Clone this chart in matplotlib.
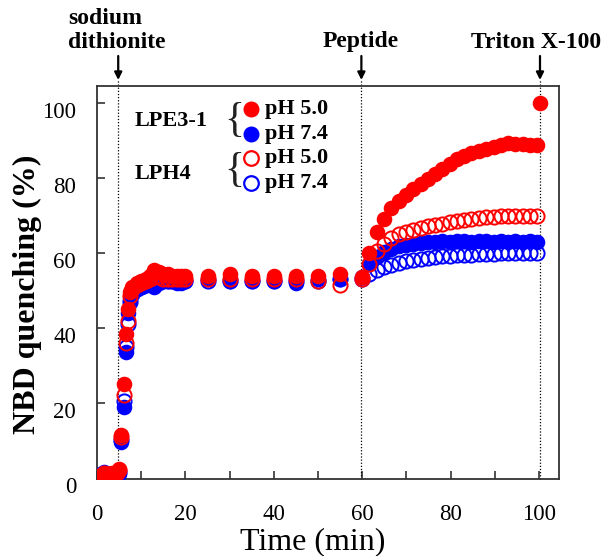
import matplotlib
matplotlib.use("Agg")
import matplotlib.pyplot as plt
from matplotlib.lines import Line2D
from matplotlib.transforms import ScaledTranslation

plt.rcParams["font.family"] = ["Liberation Serif", "DejaVu Serif"]

# time points (min)
t_early = [0.5, 1.5, 2.5, 3.5, 4.5, 5.0, 5.5, 6.0, 6.5, 7.0, 7.5, 8.0,
           9.0, 10.0, 11.0, 12.0, 13.0, 14.0, 15.0, 16.0, 17.0, 18.0, 19.0, 20.0]
t_plateau = [25, 30, 35, 40, 45, 50, 55]
t_post = [60.0, 61.6, 63.3, 64.9, 66.6, 68.2, 69.9, 71.5, 73.2, 74.8, 76.5,
          78.1, 79.8, 81.4, 83.1, 84.7, 86.4, 88.0, 89.7, 91.3, 93.0, 94.6,
          96.3, 97.9, 99.5]
times = t_early + t_plateau + t_post

# NBD quenching (%)
lpe_ph50 = ([0.5, 1.0, 1.0, 1.2, 1.5, 2.5, 11.5, 25.0, 38.5, 45.0, 49.5, 51.0,
             52.0, 52.5, 53.0, 54.0, 55.5, 55.0, 54.5, 54.5, 54.0, 54.0, 54.0, 54.0]
            + [54.0, 54.5, 54.0, 54.0, 54.0, 54.0, 54.5]
            + [53.5, 60.0, 65.5, 69.0, 72.0, 74.0, 75.5, 77.0, 78.5, 79.8, 81.0,
               82.5, 83.8, 85.0, 86.0, 86.8, 87.3, 87.8, 88.2, 88.8, 89.3, 89.2,
               89.0, 88.9, 88.9])
lpe_ph74 = ([0.8, 1.5, 1.0, 1.0, 1.0, 1.0, 9.5, 19.0, 33.5, 44.0, 47.5, 49.5,
             50.5, 51.0, 51.5, 52.0, 51.0, 52.0, 52.5, 52.5, 52.5, 52.0, 52.0, 52.5]
            + [53.0, 52.5, 52.5, 52.5, 52.0, 53.0, 53.0]
            + [53.5, 57.0, 59.0, 60.3, 61.2, 61.8, 62.2, 62.5, 62.7, 62.9, 63.0,
               63.1, 63.0, 63.2, 63.1, 63.0, 63.2, 63.1, 63.0, 63.1, 63.0, 63.2,
               63.0, 63.1, 63.0])
lph_ph50 = ([0.6, 1.2, 1.0, 1.0, 1.3, 2.0, 11.0, 22.0, 36.0, 42.0, 48.5, 50.5,
             51.5, 52.0, 52.5, 53.0, 53.5, 53.5, 53.0, 53.0, 53.0, 53.0, 53.0, 53.0]
            + [53.0, 53.0, 53.0, 53.0, 53.0, 52.5, 51.5]
            + [53.0, 57.0, 60.5, 62.5, 64.0, 65.0, 65.7, 66.2, 66.7, 67.1, 67.5,
               67.8, 68.2, 68.5, 68.8, 69.1, 69.3, 69.5, 69.6, 69.8, 69.9, 69.9,
               70.0, 70.0, 69.9])
lph_ph74 = ([0.7, 1.3, 1.0, 1.0, 1.2, 1.5, 10.0, 20.5, 35.0, 41.0, 47.0, 49.0,
             50.5, 51.0, 51.5, 52.0, 52.5, 52.5, 52.5, 52.5, 52.5, 52.5, 52.5, 52.5]
            + [52.5, 52.5, 52.5, 52.5, 52.5, 52.5, 53.0]
            + [53.0, 54.5, 55.5, 56.3, 56.9, 57.4, 57.8, 58.1, 58.4, 58.7, 58.9,
               59.1, 59.3, 59.4, 59.5, 59.6, 59.7, 59.8, 59.8, 59.9, 59.9, 60.0,
               60.0, 60.0, 60.0])
t_triton = 100.2
triton_value = 100.0

# event markers
events = [("dithionite", 4.8), ("peptide", 59.8), ("triton", 100.2)]

RED = "#ff0000"
BLUE = "#0000ff"
W, H = 610, 556


def fx(px):
    return px / W


def fy(py):
    return 1 - py / H


fig = plt.figure(figsize=(6.1, 5.56), dpi=100)
ax = fig.add_axes([fx(97), fy(479), fx(559) - fx(97), fy(86) - fy(479)])

ms = 10.2
ax.plot(times, lpe_ph74, "o", ms=ms, color=BLUE, mec=BLUE, zorder=3)
ax.plot(times, lph_ph74, "o", ms=ms, mfc="none", mec=BLUE, mew=1.4, zorder=3)
ax.plot(times, lpe_ph50, "o", ms=ms, color=RED, mec=RED, zorder=4)
ax.plot(times, lph_ph50, "o", ms=ms, mfc="none", mec=RED, mew=1.4, zorder=4)
ax.plot([t_triton], [triton_value], "o", ms=ms, color=RED, zorder=5)

ax.set_xlim(0, 104.5)
ax.set_ylim(-0.3, 104.6)
ax.set_xticks(range(0, 101, 10))
ax.set_xticklabels([str(v) if v % 20 == 0 else "" for v in range(0, 101, 10)])
ax.set_yticks(range(0, 101, 20))
ax.tick_params(direction="in", length=6, width=1.2, labelsize=16.5,
               color="#333333")
ax.tick_params(axis="x", pad=18)
ax.tick_params(axis="y", pad=15)
for lab in ax.get_yticklabels():
    lab.set_transform(lab.get_transform() +
                      ScaledTranslation(0, -0.07, fig.dpi_scale_trans))
for s in ax.spines.values():
    s.set_linewidth(1.3)
    s.set_color("#333333")

# dotted event lines + arrows
for name, t in events:
    ax.axvline(t, ymin=0, ymax=1.015, color="black", ls=(0, (1, 1.5)),
               lw=0.9, clip_on=False, zorder=2)
    ax.annotate("", xy=(t, H - 80), xytext=(t, H - 56),
                xycoords=("data", "figure pixels"),
                textcoords=("data", "figure pixels"),
                arrowprops=dict(arrowstyle="-|>", color="black", lw=1.6,
                                mutation_scale=11, shrinkA=0, shrinkB=0))

bold = dict(fontweight="bold", fontsize=17)
fig.text(fx(68), fy(19), "sodium", ha="left", va="center", **bold)
fig.text(fx(68), fy(42), "dithionite", ha="left", va="center", **bold)
fig.text(fx(361), fy(42), "Peptide", ha="center", va="center", **bold)
fig.text(fx(536), fy(42), "Triton X-100", ha="center", va="center", **bold)

# axis titles
fig.text(fx(313), fy(542), "Time (min)", ha="center", va="center", fontsize=23)
fig.text(fx(27), fy(294), "NBD quenching (%)", ha="center", va="center",
         rotation=90, fontsize=23, fontweight="bold")

# hand-drawn style legend
leg_text = dict(fontweight="bold", fontsize=16, va="center")
fig.text(fx(135), fy(121), "LPE3-1", ha="left", **leg_text)
fig.text(fx(135), fy(174), "LPH4", ha="left", **leg_text)
for yb in (121, 171):
    fig.text(fx(234), fy(yb), "{", ha="center", va="center", fontsize=30,
             color="#222222")

legend_rows = [
    (109, "pH 5.0", dict(color=RED, mec=RED)),
    (134, "pH 7.4", dict(color=BLUE, mec=BLUE)),
    (158, "pH 5.0", dict(mfc="none", mec=RED, mew=1.6)),
    (183, "pH 7.4", dict(mfc="none", mec=BLUE, mew=1.6)),
]
for yp, label, style in legend_rows:
    fig.add_artist(Line2D([fx(251)], [fy(yp)], transform=fig.transFigure,
                          marker="o", ms=10.5, ls="none", **style))
    fig.text(fx(265), fy(yp), label, ha="left", **leg_text)

fig.savefig("out.png", dpi=100)
